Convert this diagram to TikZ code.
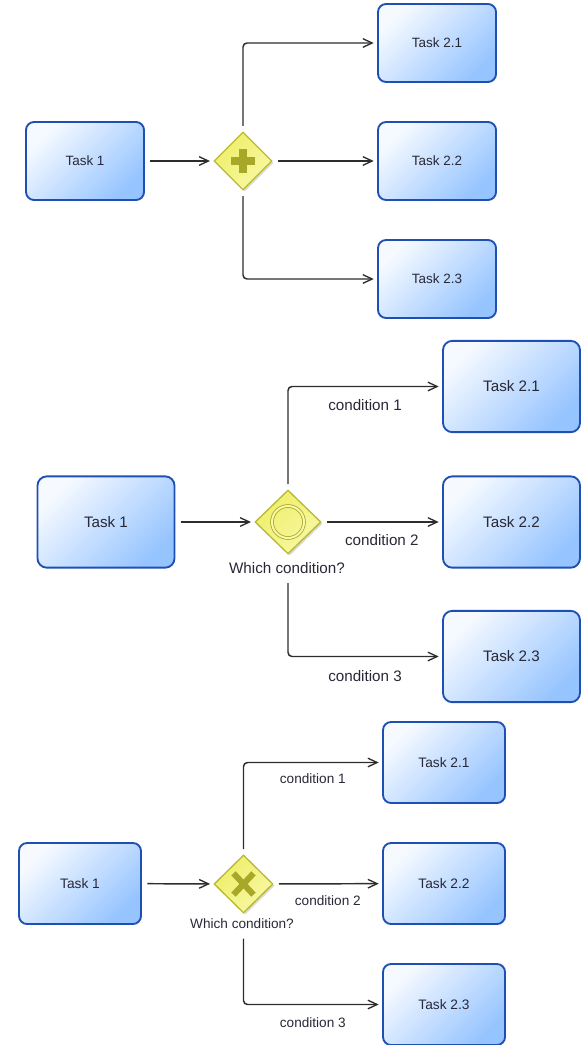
\documentclass[tikz,border=0pt]{standalone}
\usepackage{fontspec}
\setmainfont{Liberation Sans}
\usetikzlibrary{shapes.geometric,arrows.meta,shadows}
\definecolor{taskborder}{RGB}{30,80,180}
\definecolor{tasklight}{RGB}{246,250,255}
\definecolor{taskdark}{RGB}{150,196,255}
\definecolor{gwfill}{RGB}{238,238,105}
\definecolor{gwlight}{RGB}{248,248,165}
\definecolor{gwborder}{RGB}{185,185,50}
\definecolor{gwsym}{RGB}{168,168,40}
\definecolor{flowc}{RGB}{45,45,45}
\definecolor{txt}{RGB}{40,40,55}
\tikzset{
  task/.style={rectangle, rounded corners=6pt, draw=taskborder, line width=1.4pt,
    top color=tasklight, bottom color=taskdark, shading angle=45,
    text=txt, align=center, inner sep=0pt},
  taskA/.style={task, minimum width=88.5pt, minimum height=58.5pt, font=\fontsize{10.1}{12}\selectfont},
  taskB/.style={task, minimum width=102.75pt, minimum height=68.5pt, rounded corners=7pt, font=\fontsize{11.4}{13.5}\selectfont},
  taskC/.style={task, minimum width=91.5pt, minimum height=60.75pt, font=\fontsize{10.3}{12}\selectfont},
  gw/.style={diamond, aspect=1, inner sep=0pt, draw=gwborder, line width=1pt,
    top color=gwfill, bottom color=gwlight, shading angle=45,
    drop shadow={shadow xshift=1.3pt, shadow yshift=-1.3pt, opacity=0.3}},
  flow/.style={draw=flowc, line width=1.1pt, -{Straight Barb[length=7pt,width=6.5pt,line width=1pt]},
    rounded corners=3pt, shorten <=4pt, shorten >=2.5pt},
  lblB/.style={font=\fontsize{11.4}{13.5}\selectfont, text=txt, inner sep=0pt},
  lblC/.style={font=\fontsize{10.2}{12}\selectfont, text=txt, inner sep=0pt},
  sym/.style={draw=gwsym}
}
\begin{document}
\begin{tikzpicture}[x=0.75pt,y=-0.75pt]
\useasboundingbox (0,0) rectangle (581,1045);
% ---------- section 1: parallel gateway ----------
\node[taskA] (a1) at (85,161) {Task 1};
\node[gw, minimum width=43.5pt, minimum height=43.5pt] (ag) at (243,161) {};
\node[taskA] (a21) at (437,43) {Task 2.1};
\node[taskA] (a22) at (437,161) {Task 2.2};
\node[taskA] (a23) at (437,279) {Task 2.3};
\draw[sym, line width=5.5pt] ([xshift=-9pt]ag.center) -- ([xshift=9pt]ag.center)
  ([yshift=-9pt]ag.center) -- ([yshift=9pt]ag.center);
\draw[flow] (a1) -- (ag);
\draw[flow] (ag.north) |- (a21.west);
\draw[flow] (ag) -- (a22);
\draw[flow] (ag.south) |- (a23.west);
% ---------- section 2: inclusive gateway ----------
\node[taskB] (b1) at (106,522) {Task 1};
\node[gw, minimum width=49.5pt, minimum height=48pt] (bg) at (288,522) {};
\node[taskB] (b21) at (511.5,386.5) {Task 2.1};
\node[taskB] (b22) at (511.5,522) {Task 2.2};
\node[taskB] (b23) at (511.5,656.5) {Task 2.3};
\draw[sym, line width=0.6pt, double=gwlight, double distance=1.5pt] (bg.center) circle[radius=12pt];
\node[lblB] (bq) at (287,568) {Which condition?};
\draw[flow] (b1) -- (bg);
\draw[flow] (bg.north) |- (b21.west) node[lblB, pos=0.75, yshift=-14.25pt] {condition 1};
\draw[flow] (bg) -- (b22) node[lblB, midway, yshift=-13.5pt] {condition 2};
\draw[flow, shorten <=7pt] (bg |- bq.south) |- (b23.west) node[lblB, pos=0.75, yshift=-15pt] {condition 3};
% ---------- section 3: exclusive gateway ----------
\node[taskC] (c1) at (80,883.5) {Task 1};
\node[gw, minimum width=44.25pt, minimum height=43.5pt] (cg) at (243.5,884) {};
\node[taskC] (c21) at (444,762.5) {Task 2.1};
\node[taskC] (c22) at (444,883.5) {Task 2.2};
\node[taskC] (c23) at (444,1004.5) {Task 2.3};
\draw[sym, line width=4.5pt] ([xshift=-7.5pt,yshift=8pt]cg.center) -- ([xshift=7.5pt,yshift=-8pt]cg.center)
  ([xshift=-7.5pt,yshift=-8pt]cg.center) -- ([xshift=7.5pt,yshift=8pt]cg.center);
\node[lblC] (cq) at (242,924) {Which condition?};
\draw[flow] (c1) -- (cg);
\draw[flow] (cg.north) |- (c21.west) node[lblC, pos=0.75, yshift=-12pt] {condition 1};
\draw[flow] (cg) -- (c22) node[lblC, midway, yshift=-12.75pt] {condition 2};
\draw[flow, shorten <=7pt] (cg |- cq.south) |- (c23.west) node[lblC, pos=0.75, yshift=-13.5pt] {condition 3};
\end{tikzpicture}
\end{document}
